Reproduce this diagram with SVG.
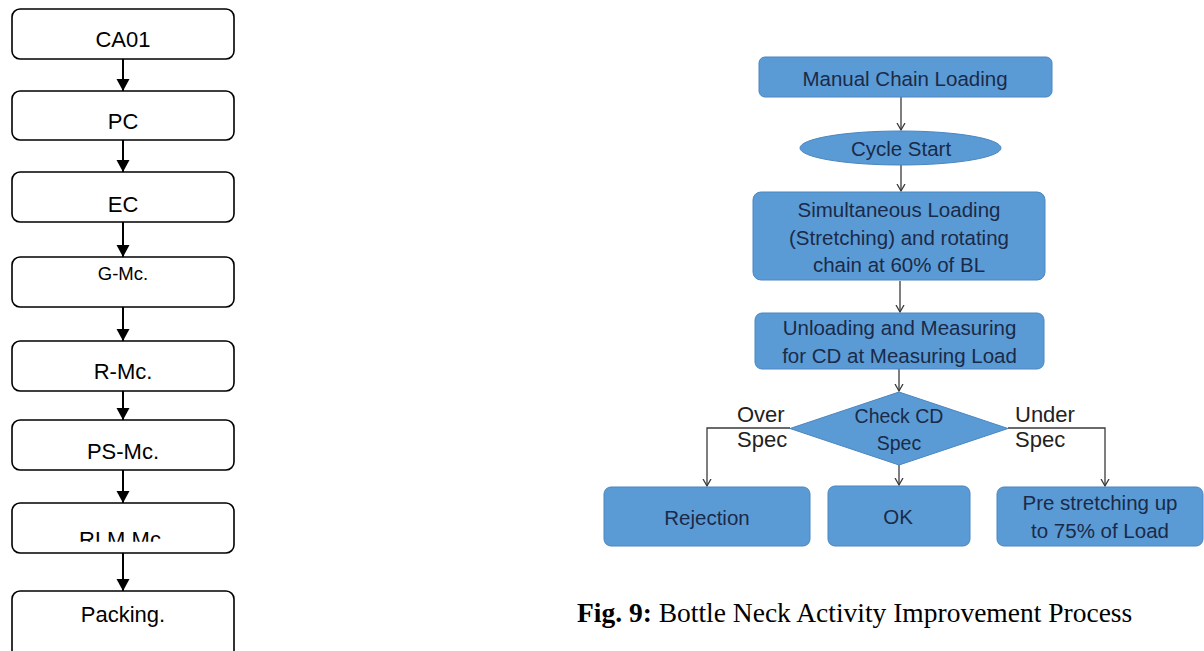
<svg xmlns="http://www.w3.org/2000/svg" width="1204" height="651" viewBox="0 0 1204 651">
<style>
.lb{fill:#fff;stroke:#000;stroke-width:1.6}
.lt{font-family:"Liberation Sans",Arial,sans-serif;font-size:22px;fill:#000;text-anchor:middle}
.rb{fill:#5b9bd5;stroke:#4a86c0;stroke-width:1}
.rt{font-family:"Liberation Sans",Arial,sans-serif;font-size:20.5px;fill:#1a2a48;text-anchor:middle}
.lab{font-family:"Liberation Sans",Arial,sans-serif;font-size:22px;fill:#222}
.lc{stroke:#000;stroke-width:2;fill:none}
.rc{stroke:#3a3a3a;stroke-width:1.3;fill:none}
.cap{font-family:"Liberation Serif","Times New Roman",serif;font-size:27.5px;fill:#000}
</style>
<defs>
<marker id="tri" markerUnits="userSpaceOnUse" markerWidth="14" markerHeight="14" refX="12" refY="6.5" orient="auto">
<path d="M0,0 L12,6.5 L0,13 z" fill="#000"/>
</marker>
<marker id="vee" markerUnits="userSpaceOnUse" markerWidth="10" markerHeight="10" refX="7.5" refY="4.5" orient="auto">
<path d="M0.5,0.5 L7.5,4.5 L0.5,8.5" fill="none" stroke="#3a3a3a" stroke-width="1.3"/>
</marker>
<clipPath id="clipRLM"><rect x="0" y="503" width="250" height="38.7"/></clipPath>
</defs>

<g id="connectors">
<line class="lc" x1="123" y1="59" x2="123" y2="91" marker-end="url(#tri)"/>
<line class="lc" x1="123" y1="140" x2="123" y2="172" marker-end="url(#tri)"/>
<line class="lc" x1="123" y1="222" x2="123" y2="257" marker-end="url(#tri)"/>
<line class="lc" x1="123" y1="307" x2="123" y2="341" marker-end="url(#tri)"/>
<line class="lc" x1="123" y1="391" x2="123" y2="420" marker-end="url(#tri)"/>
<line class="lc" x1="123" y1="470" x2="123" y2="503" marker-end="url(#tri)"/>
<line class="lc" x1="123" y1="553" x2="123" y2="591" marker-end="url(#tri)"/>

<line class="rc" x1="901" y1="97" x2="901" y2="130" marker-end="url(#vee)"/>
<line class="rc" x1="901" y1="165" x2="901" y2="191" marker-end="url(#vee)"/>
<line class="rc" x1="900" y1="281" x2="900" y2="312" marker-end="url(#vee)"/>
<line class="rc" x1="899" y1="369" x2="899" y2="391" marker-end="url(#vee)"/>
<line class="rc" x1="899" y1="465" x2="899" y2="485" marker-end="url(#vee)"/>
<polyline class="rc" points="790,428 707,428 707,486" marker-end="url(#vee)"/>
<polyline class="rc" points="1008,428 1105,428 1105,486" marker-end="url(#vee)"/>
</g>

<g id="n-ca01"><rect class="lb" x="12" y="9" width="222" height="50" rx="8"/><text class="lt" x="123" y="47">CA01</text></g>
<g id="n-pc"><rect class="lb" x="12" y="91" width="222" height="49" rx="8"/><text class="lt" x="123" y="129">PC</text></g>
<g id="n-ec"><rect class="lb" x="12" y="172" width="222" height="50" rx="8"/><text class="lt" x="123" y="212">EC</text></g>
<g id="n-gmc"><rect class="lb" x="12" y="257" width="222" height="50" rx="8"/><text class="lt" x="123" y="280" style="font-size:18.5px">G-Mc.</text></g>
<g id="n-rmc"><rect class="lb" x="12" y="341" width="222" height="50" rx="8"/><text class="lt" x="123" y="379">R-Mc.</text></g>
<g id="n-psmc"><rect class="lb" x="12" y="420" width="222" height="50" rx="8"/><text class="lt" x="123" y="459">PS-Mc.</text></g>
<g id="n-rlmmc"><rect class="lb" x="12" y="503" width="222" height="50" rx="8"/><text class="lt" x="123" y="546.5" clip-path="url(#clipRLM)">RLM Mc.</text></g>
<g id="n-packing"><rect class="lb" x="12" y="591" width="222" height="70" rx="8"/><text class="lt" x="123" y="622">Packing.</text></g>

<g id="n-manual"><rect class="rb" x="759" y="57" width="293" height="40" rx="6"/><text class="rt" x="905" y="86">Manual Chain Loading</text></g>
<g id="n-cycle"><ellipse class="rb" cx="900.5" cy="148" rx="100.5" ry="17"/><text class="rt" x="901" y="155.5">Cycle Start</text></g>
<g id="n-simul"><rect class="rb" x="753" y="192" width="292" height="88" rx="8"/>
<text class="rt" x="899" y="216.5">Simultaneous Loading</text>
<text class="rt" x="899" y="244.5">(Stretching) and rotating</text>
<text class="rt" x="899" y="271.5">chain at 60% of BL</text></g>
<g id="n-unload"><rect class="rb" x="755" y="313" width="289" height="56" rx="7"/>
<text class="rt" x="899.5" y="335">Unloading and Measuring</text>
<text class="rt" x="899.5" y="362.5">for CD at Measuring Load</text></g>
<g id="n-check"><polygon class="rb" points="899,392 1008,428.5 899,465 790,428.5"/>
<text class="rt" x="899" y="423" style="font-size:19.5px">Check CD</text>
<text class="rt" x="899" y="450" style="font-size:19.5px">Spec</text></g>
<g id="n-reject"><rect class="rb" x="604" y="487" width="206" height="59" rx="7"/><text class="rt" x="707" y="524.5">Rejection</text></g>
<g id="n-ok"><rect class="rb" x="828" y="486" width="142" height="60" rx="7"/><text class="rt" x="898" y="523.5">OK</text></g>
<g id="n-pre"><rect class="rb" x="997" y="487" width="206" height="59" rx="7"/>
<text class="rt" x="1100" y="510">Pre stretching up</text>
<text class="rt" x="1100" y="538">to 75% of Load</text></g>

<g id="labels">
<text class="lab" x="737" y="421.7">Over</text>
<text class="lab" x="737" y="446.7">Spec</text>
<text class="lab" x="1015" y="421.7">Under</text>
<text class="lab" x="1015" y="446.7">Spec</text>
</g>

<text class="cap" x="577" y="622"><tspan font-weight="bold">Fig. 9:</tspan> Bottle Neck Activity Improvement Process</text>
</svg>
